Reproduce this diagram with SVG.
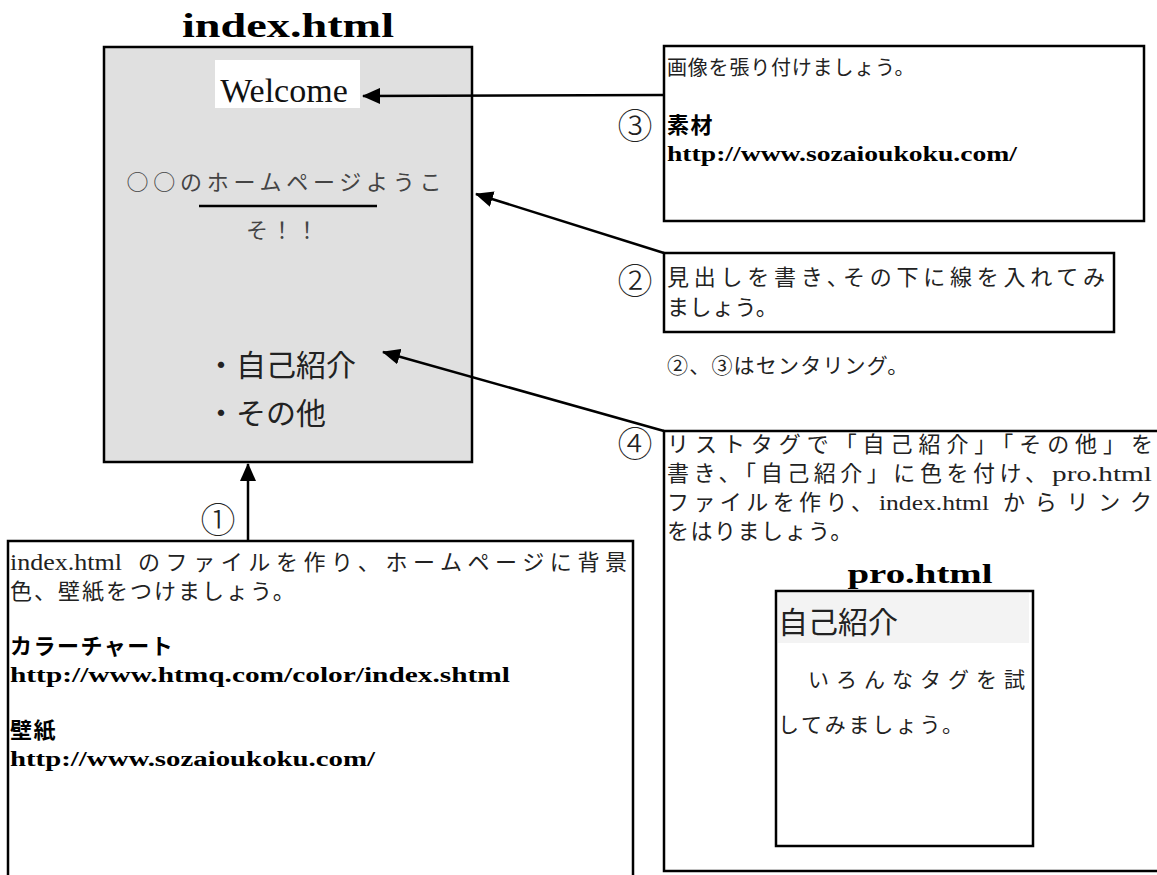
<svg xmlns="http://www.w3.org/2000/svg" width="1157" height="875" viewBox="0 0 1157 875">
<style>
.box{fill:#fff;stroke:#000;stroke-width:2.5}
.lat{font-family:"Liberation Serif",serif;fill:#222}
.cj{font-family:"Noto Sans CJK JP",sans-serif;fill:#222}
.jpb{font-family:"Noto Sans CJK JP",sans-serif;font-weight:bold;fill:#000;font-size:22px;letter-spacing:1.5px}
.url{font-family:"Liberation Serif",serif;font-weight:bold;fill:#000;font-size:20px}
.title{font-family:"Liberation Serif",serif;font-weight:bold;fill:#000}
.num{font-family:"Noto Sans CJK JP",sans-serif;font-weight:300;fill:#222;font-size:35px;text-anchor:middle}
.line{stroke:#000;stroke-width:2.5;fill:none}
</style>
<defs>
<marker id="ah" markerWidth="18" markerHeight="16" refX="17" refY="8" orient="auto" markerUnits="userSpaceOnUse">
<path d="M0,0 L18,8 L0,16 Z" fill="#000"/>
</marker>
</defs>
<rect width="1157" height="875" fill="#fff"/>

<g id="index-page">
<text class="title" x="288" y="37" style="font-size:33px" text-anchor="middle" textLength="212" lengthAdjust="spacingAndGlyphs">index.html</text>
<rect x="104" y="47" width="368" height="415" fill="#e0e0e0" stroke="#000" stroke-width="2.5"/>
<rect x="215" y="60" width="145" height="48" fill="#fff"/>
<text class="lat" x="284" y="102" style="font-size:34px;fill:#111" text-anchor="middle">Welcome</text>
<text class="cj" x="284" y="190" style="font-size:22px;fill:#444" text-anchor="middle" textLength="315" lengthAdjust="spacing">○○のホームページようこ</text>
<line x1="199" y1="206" x2="377" y2="206" stroke="#000" stroke-width="2.5"/>
<text class="cj" x="282" y="238" style="font-size:22px;fill:#444" text-anchor="middle" textLength="72" lengthAdjust="spacing">そ！！</text>
<text class="cj" x="206" y="376" style="font-size:30px">・自己紹介</text>
<text class="cj" x="206" y="424" style="font-size:30px">・その他</text>
</g>

<g id="step1">
<rect class="box" x="8" y="541" width="625" height="345"/>
<text class="num" x="218" y="533">①</text>
<text class="lat" x="10" y="570" style="font-size:23px" textLength="112" lengthAdjust="spacingAndGlyphs">index.html</text>
<text class="cj" x="138" y="570" style="font-size:22px" textLength="489" lengthAdjust="spacing">のファイルを作り、ホームページに背景</text>
<text class="cj" x="10" y="599" style="font-size:22px;letter-spacing:2px">色、壁紙をつけましょう。</text>
<text class="jpb" x="10" y="654">カラーチャート</text>
<text class="url" x="10" y="682" textLength="500" lengthAdjust="spacingAndGlyphs">http://www.htmq.com/color/index.shtml</text>
<text class="jpb" x="10" y="738">壁紙</text>
<text class="url" x="10" y="766" textLength="365" lengthAdjust="spacingAndGlyphs">http://www.sozaioukoku.com/</text>
</g>

<g id="step3">
<rect class="box" x="664" y="46" width="480" height="175"/>
<text class="num" x="635" y="139">③</text>
<text class="cj" x="667" y="75" style="font-size:20px;letter-spacing:0.8px">画像を張り付けましょう。</text>
<text class="jpb" x="667" y="133">素材</text>
<text class="url" x="667" y="161" textLength="350" lengthAdjust="spacingAndGlyphs">http://www.sozaioukoku.com/</text>
</g>

<g id="step2">
<rect class="box" x="664" y="253" width="450" height="79"/>
<text class="num" x="635" y="294">②</text>
<text class="cj" x="667" y="285" style="font-size:22px" textLength="438" lengthAdjust="spacing">見出しを書き､その下に線を入れてみ</text>
<text class="cj" x="667" y="315" style="font-size:22px;letter-spacing:0.5px">ましょう。</text>
</g>

<g id="note">
<text class="cj" x="667" y="373" style="font-size:21px;letter-spacing:1.2px">②、③はセンタリング。</text>
</g>

<g id="step4">
<rect class="box" x="664" y="431" width="500" height="440"/>
<text class="num" x="635" y="457">④</text>
<text class="cj" x="667" y="452" style="font-size:22px" textLength="486" lengthAdjust="spacing">リストタグで「自己紹介」「その他」を</text>
<text class="cj" x="667" y="481" style="font-size:22px" textLength="380" lengthAdjust="spacing">書き、「自己紹介」に色を付け、</text>
<text class="lat" x="1052" y="481" style="font-size:22px" textLength="100" lengthAdjust="spacingAndGlyphs">pro.html</text>
<text class="cj" x="667" y="510" style="font-size:22px" textLength="206" lengthAdjust="spacing">ファイルを作り、</text>
<text class="lat" x="879" y="510" style="font-size:22px" textLength="110" lengthAdjust="spacingAndGlyphs">index.html</text>
<text class="cj" x="1003" y="510" style="font-size:22px" textLength="149" lengthAdjust="spacing">からリンク</text>
<text class="cj" x="667" y="539" style="font-size:22px;letter-spacing:1.5px">をはりましょう。</text>
</g>

<g id="pro-page">
<text class="title" x="920" y="583" style="font-size:27px" text-anchor="middle" textLength="145" lengthAdjust="spacingAndGlyphs">pro.html</text>
<rect class="box" x="776" y="591" width="257" height="255"/>
<rect x="778" y="593" width="251" height="50" fill="#f3f3f3"/>
<text class="cj" x="778" y="633" style="font-size:30px">自己紹介</text>
<text class="cj" x="808" y="687" style="font-size:21px" textLength="217" lengthAdjust="spacing">いろんなタグを試</text>
<text class="cj" x="778" y="732" style="font-size:21px" textLength="185" lengthAdjust="spacing">してみましょう。</text>
</g>

<g id="connectors">
<line class="line" x1="664" y1="95" x2="363" y2="96" marker-end="url(#ah)"/>
<line class="line" x1="664" y1="253" x2="476" y2="194" marker-end="url(#ah)"/>
<line class="line" x1="664" y1="431" x2="383" y2="352" marker-end="url(#ah)"/>
<line class="line" x1="248" y1="541" x2="248" y2="464" marker-end="url(#ah)"/>
</g>
</svg>
